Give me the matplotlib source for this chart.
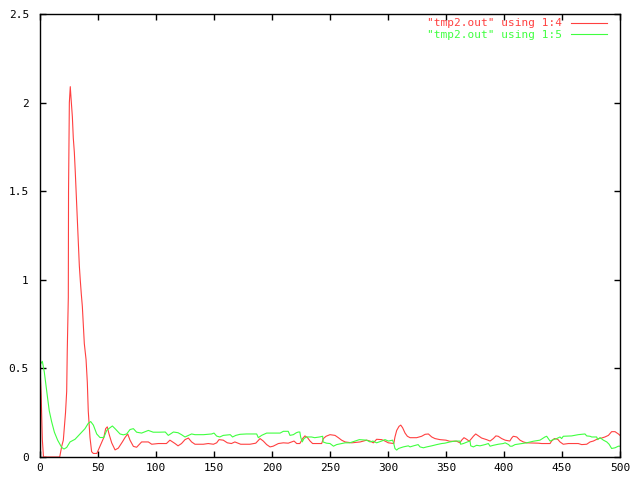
import matplotlib
matplotlib.use("Agg")
import matplotlib.pyplot as plt
from matplotlib.ticker import FormatStrFormatter

# ---- data ----
red_x = [0, 1, 2, 3, 17, 18.7, 20.1, 22, 23, 23.5, 24.4, 24.6, 25.3, 26.1, 26.7, 27.9, 28.7,
         29.6, 30.4, 31.3, 32.2, 33, 33.9, 34.7, 35.6, 36.5, 37.4, 38.2, 39.7, 40.8, 41.6,
         43.1, 44.5, 46, 49, 50.3, 53, 55, 56.6, 58, 59.5, 61.8, 64.7, 67.5, 71, 73.3, 75.6,
         77.6, 80.5, 83.3, 87.6, 93.4, 96.3, 102, 109, 112, 116.4, 119, 122, 125, 127.9,
         130.7, 133.6, 140.8, 145, 149.5, 152.3, 154.3, 158, 161.5, 165, 168, 173, 181, 186,
         189.7, 192.5, 195.4, 198.3, 201, 205.5, 209.8, 214, 217, 219, 221.3, 224, 226.4,
         228.4, 230.5, 232.8, 235, 242.8, 244.3, 246.6, 250, 254.3, 257.2, 260, 263, 268.7,
         276, 281.6, 284.5, 287.4, 290.2, 294.5, 297.4, 300.3, 305, 306, 307.5, 309.5, 311,
         312.6, 314.7, 316.7, 319, 324.7, 329, 332, 334.8, 337.7, 340.5, 344.8, 350, 353,
         359.2, 362, 363.5, 365.5, 367.8, 370, 372, 373.6, 375.6, 378, 380.7, 385, 388, 390.8,
         393, 395, 398, 401, 405, 406.6, 408, 411, 413.8, 416.7, 419.5, 429.6, 432.5, 439.7,
         441, 443.4, 446.3, 448.3, 451.1, 455.5, 464, 467, 471.3, 474.2, 477, 481.3, 484.2,
         487, 490, 492.8, 495.7, 498.6, 500]
red_y = [0.51, 0.35, 0.10, 0.0, 0.0, 0.06, 0.095, 0.25, 0.37, 0.6, 0.9, 1.5, 2.0, 2.09, 2.03,
         1.92, 1.80, 1.72, 1.61, 1.47, 1.33, 1.21, 1.08, 1.0, 0.92, 0.85, 0.74, 0.64, 0.55,
         0.42, 0.26, 0.11, 0.03, 0.02, 0.02, 0.04, 0.08, 0.11, 0.16, 0.17, 0.13, 0.08, 0.04,
         0.05, 0.085, 0.11, 0.13, 0.095, 0.06, 0.055, 0.085, 0.085, 0.072, 0.076, 0.076,
         0.095, 0.076, 0.063, 0.076, 0.098, 0.107, 0.085, 0.072, 0.072, 0.076, 0.072, 0.08,
         0.098, 0.095, 0.08, 0.076, 0.085, 0.072, 0.072, 0.078, 0.104, 0.09, 0.07, 0.057,
         0.061, 0.076, 0.08, 0.078, 0.085, 0.09, 0.076, 0.076, 0.104, 0.119, 0.11, 0.09,
         0.076, 0.076, 0.104, 0.117, 0.126, 0.122, 0.109, 0.095, 0.085, 0.08, 0.085, 0.095,
         0.09, 0.08, 0.1, 0.098, 0.09, 0.08, 0.076, 0.113, 0.15, 0.173, 0.18, 0.165, 0.135,
         0.117, 0.109, 0.109, 0.117, 0.128, 0.13, 0.113, 0.104, 0.098, 0.095, 0.089, 0.089,
         0.08, 0.095, 0.109, 0.1, 0.089, 0.104, 0.117, 0.13, 0.119, 0.107, 0.098, 0.09,
         0.104, 0.119, 0.117, 0.104, 0.095, 0.09, 0.107, 0.117, 0.113, 0.095, 0.085, 0.08,
         0.078, 0.076, 0.076, 0.09, 0.104, 0.1, 0.085, 0.072, 0.076, 0.076, 0.07, 0.072,
         0.085, 0.09, 0.104, 0.107, 0.113, 0.122, 0.143, 0.143, 0.13, 0.122]

green_x = [0, 2, 3.7, 5.2, 6.6, 8, 10, 12.4, 15.2, 18.7, 20.7, 23, 25.9, 30.2, 34.5, 38.8,
           41.6, 43.7, 46, 48.9, 51.7, 55, 57.5, 60.3, 62.4, 64.7, 69, 71.8, 74.7, 77.6,
           80.5, 83.3, 87.6, 93.4, 97.6, 103, 108, 110.6, 115, 119, 122, 125, 130.7, 133.6,
           141, 148, 150, 152.3, 155, 158, 164, 166, 168.8, 172.4, 178, 186.8, 188.2, 191,
           195.4, 207, 209.8, 214, 215.5, 218.4, 221, 222.7, 224, 224.7, 226, 227.6, 229.6,
           234, 236.8, 241, 243.7, 244, 247, 250, 253, 255.7, 260, 263, 267, 271.6, 275.3,
           281.6, 284.5, 287, 290.2, 294.5, 297.4, 300.3, 304, 305, 306, 307.5, 309, 313.2,
           317.5, 319, 322, 326, 327.6, 330.5, 333.4, 337.7, 342, 346.3, 349, 353.4, 357.8,
           362, 362.6, 365, 368.4, 370.7, 371.3, 373.6, 376.4, 379.3, 383.6, 386.5, 388,
           390.8, 395.1, 399.4, 401, 404, 405.2, 407, 409.5, 415.2, 419.5, 425.3, 431, 435.3,
           436.8, 438.2, 439.7, 442.5, 445.4, 448.3, 449.7, 451.1, 458.3, 464, 469.8, 471.3,
           474.2, 475.6, 479.9, 480.8, 482.8, 485.7, 488.6, 490.6, 492.8, 495.7, 498.6, 500]
green_y = [0.52, 0.54, 0.48, 0.40, 0.33, 0.26, 0.20, 0.14, 0.095, 0.054, 0.045, 0.054, 0.085,
           0.10, 0.13, 0.16, 0.19, 0.20, 0.18, 0.13, 0.11, 0.11, 0.15, 0.165, 0.175, 0.16,
           0.13, 0.125, 0.13, 0.155, 0.16, 0.14, 0.135, 0.15, 0.14, 0.14, 0.141, 0.122, 0.141,
           0.137, 0.126, 0.113, 0.13, 0.126, 0.126, 0.13, 0.135, 0.118, 0.113, 0.122, 0.126,
           0.113, 0.122, 0.128, 0.13, 0.13, 0.109, 0.122, 0.135, 0.135, 0.145, 0.145, 0.122,
           0.126, 0.137, 0.141, 0.141, 0.113, 0.085, 0.104, 0.113, 0.113, 0.109, 0.113, 0.117,
           0.085, 0.078, 0.076, 0.061, 0.07, 0.076, 0.08, 0.08, 0.09, 0.098, 0.095, 0.085,
           0.09, 0.08, 0.09, 0.098, 0.09, 0.095, 0.075, 0.048, 0.039, 0.048, 0.057, 0.063,
           0.057, 0.063, 0.07, 0.057, 0.052, 0.057, 0.063, 0.07, 0.076, 0.078, 0.085, 0.09,
           0.09, 0.072, 0.076, 0.085, 0.09, 0.063, 0.057, 0.066, 0.063, 0.07, 0.076, 0.061,
           0.066, 0.072, 0.076, 0.08, 0.07, 0.061, 0.061, 0.07, 0.076, 0.08, 0.089, 0.095,
           0.113, 0.117, 0.104, 0.09, 0.098, 0.104, 0.113, 0.104, 0.117, 0.119, 0.126, 0.13,
           0.119, 0.117, 0.113, 0.113, 0.098, 0.109, 0.095, 0.085, 0.072, 0.048, 0.052, 0.061,
           0.061]

labels = ['"tmp2.out" using 1:4', '"tmp2.out" using 1:5']
colors = ['#ff4040', '#40ff40']
x_ticks = list(range(0, 501, 50))
y_ticks = [0, 0.5, 1, 1.5, 2, 2.5]

plt.rcParams['font.family'] = ['DejaVu Sans Mono']
fig = plt.figure(figsize=(6.4, 4.8), dpi=100)
ax = fig.add_axes([40/640, 1 - 457/480, 580/640, 443/480])

ax.plot(red_x, red_y, color=colors[0], lw=0.8, label=labels[0])
ax.plot(green_x, green_y, color=colors[1], lw=0.8, label=labels[1])

ax.set_xlim(0, 500)
ax.set_ylim(0, 2.5)
ax.set_xticks(x_ticks)
ax.set_yticks(y_ticks)
ax.yaxis.set_major_formatter(FormatStrFormatter('%g'))
ax.tick_params(direction='in', length=4, width=1, top=True, right=True,
               labelsize=8, colors='black')
ax.tick_params(axis='y', pad=8)
ax.tick_params(axis='x', pad=4)
for s in ax.spines.values():
    s.set_linewidth(1.0)
    s.set_color('black')

leg = ax.legend(loc='upper right', bbox_to_anchor=(0.985, 1.0), frameon=False,
                markerfirst=False, handlelength=3.2, handletextpad=0.8,
                labelspacing=0.1, fontsize=8, labelcolor='linecolor',
                borderaxespad=0.0)
for h in leg.legend_handles:
    h.set_linewidth(0.8)

fig.savefig('out.png', dpi=100)
